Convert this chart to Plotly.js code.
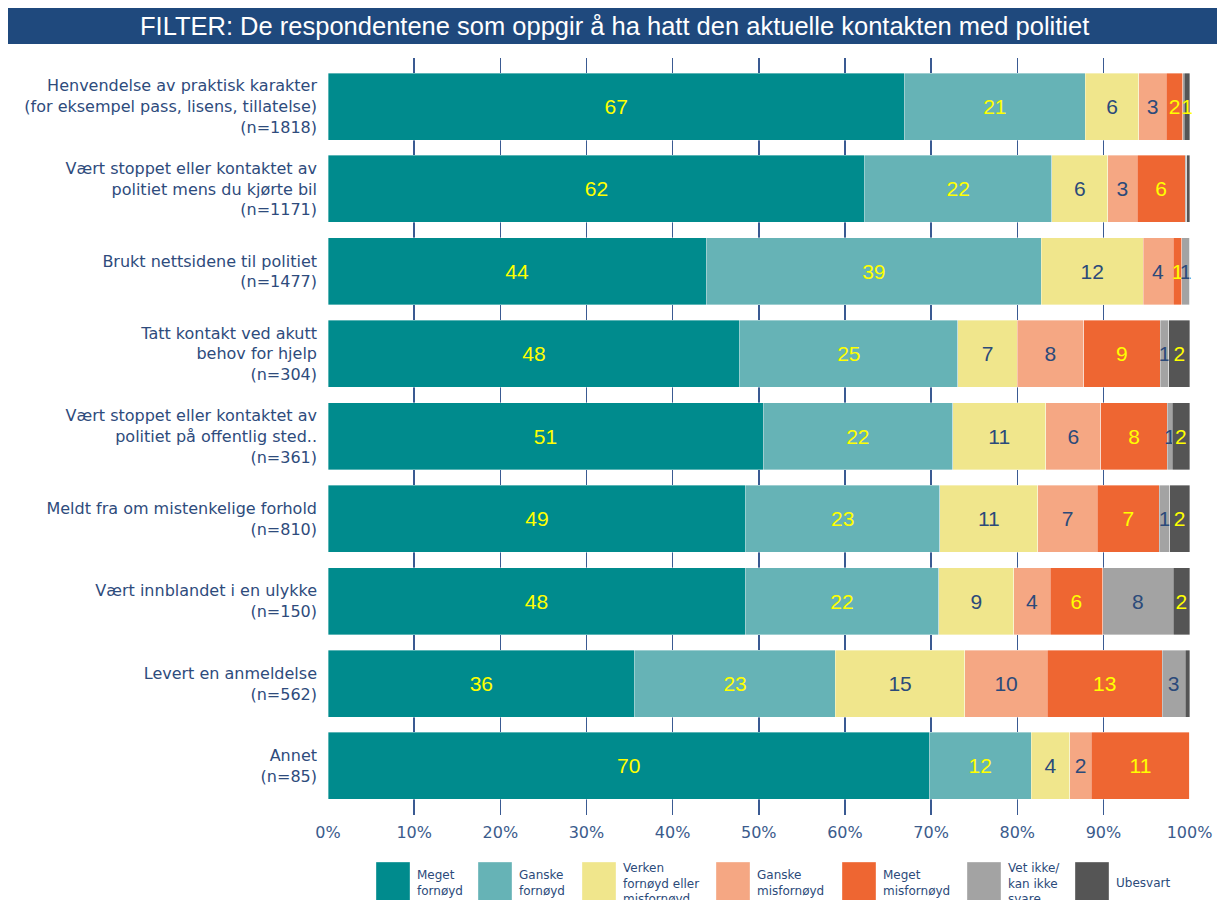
<!DOCTYPE html>
<html>
<head>
<meta charset="utf-8">
<script src="https://cdn.plot.ly/plotly-3.0.1.min.js"></script>
<style>html,body{margin:0;padding:0;background:#fff;} #chart{width:1217px;height:900px;}</style>
</head>
<body>
<div id="chart"></div>
<script>
const categories = [
  "Henvendelse av praktisk karakter<br>(for eksempel pass, lisens, tillatelse)<br>(n=1818)",
  "Vært stoppet eller kontaktet av<br>politiet mens du kjørte bil<br>(n=1171)",
  "Brukt nettsidene til politiet<br>(n=1477)",
  "Tatt kontakt ved akutt<br>behov for hjelp<br>(n=304)",
  "Vært stoppet eller kontaktet av<br>politiet på offentlig sted..<br>(n=361)",
  "Meldt fra om mistenkelige forhold<br>(n=810)",
  "Vært innblandet i en ulykke<br>(n=150)",
  "Levert en anmeldelse<br>(n=562)",
  "Annet<br>(n=85)"
];

const seriesNames = ["Meget<br>fornøyd", "Ganske<br>fornøyd", "Verken<br>fornøyd eller<br>misfornøyd", "Ganske<br>misfornøyd", "Meget<br>misfornøyd", "Vet ikke/<br>kan ikke<br>svare", "Ubesvart"];

const megetFornoyd  = [66.9, 62.3, 43.9, 47.8, 50.5, 48.5, 48.4, 35.6, 69.8];
const ganskeFornoyd = [21.0, 21.7, 38.9, 25.3, 22.0, 22.5, 22.5, 23.3, 11.8];
const verken        = [6.2, 6.5, 11.8, 6.9, 10.8, 11.4, 8.7, 15.0, 4.5];
const ganskeMis     = [3.2, 3.4, 3.5, 7.7, 6.4, 6.9, 4.2, 9.6, 2.5];
const megetMis      = [1.9, 5.6, 1.0, 8.9, 7.7, 7.2, 6.1, 13.3, 11.4];
const vetIkke       = [0.2, 0.2, 0.9, 1.0, 0.6, 1.2, 8.2, 2.7, 0.0];
const ubesvart      = [0.6, 0.3, 0.0, 2.4, 2.0, 2.3, 1.9, 0.5, 0.0];

const megetFornoydLbl  = ["67","62","44","48","51","49","48","36","70"];
const ganskeFornoydLbl = ["21","22","39","25","22","23","22","23","12"];
const verkenLbl        = ["6","6","12","7","11","11","9","15","4"];
const ganskeMisLbl     = ["3","3","4","8","6","7","4","10","2"];
const megetMisLbl      = ["2","6","1","9","8","7","6","13","11"];
const vetIkkeLbl       = ["","","1","1","1","1","8","3",""];
const ubesvartLbl      = ["1","","","2","2","2","2","",""];

const xTicks = [0,10,20,30,40,50,60,70,80,90,100];
const xTickLabels = ["0%","10%","20%","30%","40%","50%","60%","70%","80%","90%","100%"];

const colors = ["#008B8D", "#66B3B6", "#F0E68C", "#F5A783", "#EE6632", "#A3A3A3", "#555555"];
const textColors = ["#FFFF00", "#FFFF00", "#2B4A7A", "#2B4A7A", "#FFFF00", "#2B4A7A", "#FFFF00"];

const values = [megetFornoyd, ganskeFornoyd, verken, ganskeMis, megetMis, vetIkke, ubesvart];
const labels = [megetFornoydLbl, ganskeFornoydLbl, verkenLbl, ganskeMisLbl, megetMisLbl, vetIkkeLbl, ubesvartLbl];

const traces = values.map((v, i) => ({
  type: 'bar',
  orientation: 'h',
  name: seriesNames[i],
  y: categories,
  x: v,
  text: labels[i],
  texttemplate: '%{text}',
  textposition: 'inside',
  insidetextanchor: 'middle',
  textangle: 0,
  constraintext: 'none',
  cliponaxis: false,
  textfont: {family: 'Arial, "Liberation Sans", sans-serif', size: 21, color: textColors[i]},
  marker: {color: colors[i], line: {color: 'rgba(255,255,255,0.6)', width: 0.6}},
  hoverinfo: 'x+name',
  showlegend: false
}));

// plot area geometry in px
const L = 328, R = 1190, T = 58, B = 815;
const W = R - L, H = B - T;
const px = x => (x - L) / W;
const py = y => (B - y) / H;

const legendX = [376, 478, 582, 716, 842, 967, 1075];
const shapes = [{
  type: 'rect', xref: 'paper', yref: 'paper',
  x0: px(8), x1: px(1217), y0: py(44), y1: py(8),
  fillcolor: '#1F497D', line: {width: 0}, layer: 'above'
}];
const annotations = [{
  xref: 'paper', yref: 'paper', x: px(614), y: py(26), xanchor: 'center', yanchor: 'middle',
  text: 'FILTER: De respondentene som oppgir å ha hatt den aktuelle kontakten med politiet',
  showarrow: false, font: {family: 'Arial, "Liberation Sans", sans-serif', size: 25.5, color: '#FFFFFF'}
}];
legendX.forEach((lx, i) => {
  shapes.push({
    type: 'rect', xref: 'paper', yref: 'paper',
    x0: px(lx), x1: px(lx + 34), y0: py(906), y1: py(862),
    fillcolor: colors[i], line: {color: 'rgba(255,255,255,0.6)', width: 0.6}
  });
  annotations.push({
    xref: 'paper', yref: 'paper', x: px(lx + 39), y: py(883), xanchor: 'left', yanchor: 'middle',
    align: 'left', text: seriesNames[i], showarrow: false,
    font: {family: '"DejaVu Sans", sans-serif', size: 12, color: '#2B4A7A'}
  });
});

const layout = {
  width: 1217, height: 900,
  margin: {l: L, r: 1217 - R, t: T, b: 900 - B, pad: 0},
  paper_bgcolor: '#FFFFFF', plot_bgcolor: '#FFFFFF',
  barmode: 'stack',
  bargap: 0.187,
  showlegend: false,
  xaxis: {
    range: [0, 100.05], tickmode: 'array', tickvals: xTicks, ticktext: xTickLabels,
    showgrid: true, gridcolor: '#3A5A92', gridwidth: 1.5,
    zeroline: false, showline: false, ticks: '',
    ticklabelstandoff: 6,
    tickfont: {family: '"DejaVu Sans", sans-serif', size: 16, color: '#3B5B8C'},
    fixedrange: true
  },
  yaxis: {
    type: 'category', autorange: false, range: [8.595, -0.589],
    showgrid: false, zeroline: false, showline: false, ticks: '',
    ticklabelstandoff: 10,
    tickfont: {family: '"DejaVu Sans", sans-serif', size: 16, color: '#2E4B7C'},
    fixedrange: true
  },
  shapes: shapes,
  annotations: annotations
};

Plotly.newPlot('chart', traces, layout, {displayModeBar: false, staticPlot: true});
</script>
</body>
</html>
